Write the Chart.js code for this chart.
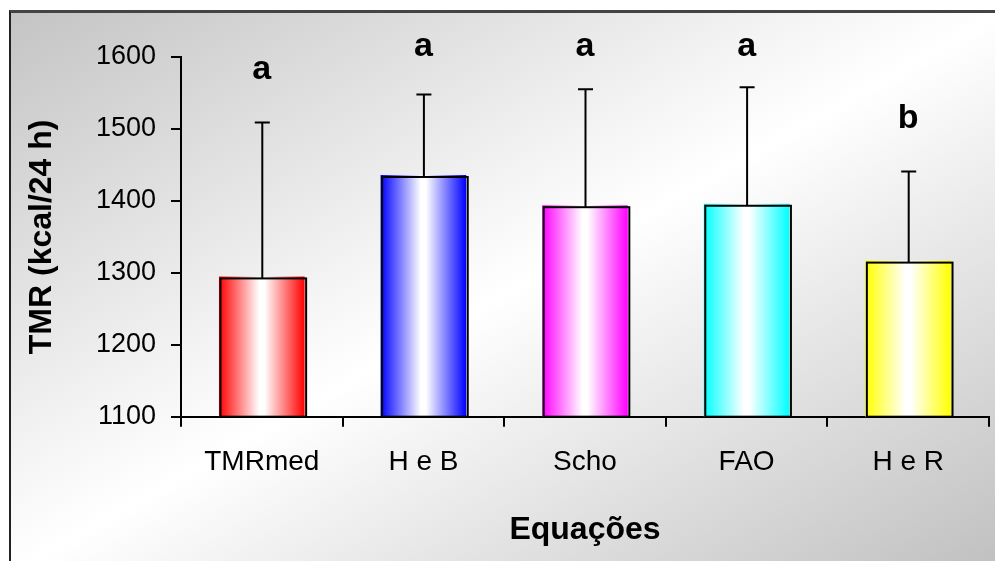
<!DOCTYPE html>
<html lang="pt">
<head>
  <meta charset="UTF-8">
  <title>TMR por equação</title>
  <script src="https://cdn.jsdelivr.net/npm/chart.js"></script>
  <style>
    html, body { margin: 0; padding: 0; width: 995px; height: 561px; overflow: hidden; background: #fff; }
    #frame {
      position: absolute; left: 9px; top: 10px; width: 992px; height: 560px;
      border-left: 2px solid #222; border-top: 3px solid #444;
      background: linear-gradient(to bottom right, #c4c4c4 0%, #f4f4f4 40%, #ffffff 50%, #f2f2f2 60%, #bfbfbf 100%);
    }
    #tmrChart { position: absolute; left: 0; top: 0; }
  </style>
</head>
<body>
  <div id="frame"></div>
  <canvas id="tmrChart" width="995" height="561"></canvas>

  <script>
    // values
    const categories = ['TMRmed', 'H e B', 'Scho', 'FAO', 'H e R'];
    const means = [1295, 1436, 1394, 1396, 1317];
    const errTop = [1509, 1548, 1555, 1558, 1441];
    const letters = ['a', 'a', 'a', 'a', 'b'];
    const letterLevels = [1569, 1602, 1602, 1602, 1502];
    const barColors = ['#ff0000', '#0000ff', '#ff00ff', '#00ffff', '#ffff00'];
    const yTicks = [1100, 1200, 1300, 1400, 1500, 1600];

    const BAR_PCT = 0.53;
    const FONT = "'Liberation Sans', Arial, sans-serif";

    // horizontal colour -> white -> colour fill, like the old Excel bars
    function barGradient(c) {
      const chart = c.chart;
      const xs = chart.scales.x;
      const col = barColors[c.dataIndex] || barColors[0];
      if (!xs || c.dataIndex === undefined) return col;
      const cx = xs.getPixelForValue(c.dataIndex);
      const w = xs.width / categories.length * BAR_PCT;
      if (!isFinite(cx) || !isFinite(w) || w <= 0) return col;
      const g = chart.ctx.createLinearGradient(cx - w / 2, 0, cx + w / 2, 0);
      g.addColorStop(0, col);
      g.addColorStop(0.47, '#ffffff');
      g.addColorStop(0.53, '#ffffff');
      g.addColorStop(1, col);
      return g;
    }

    // outline (slightly offset), error bars and letters
    const extras = {
      id: 'extras',
      afterDatasetsDraw(chart) {
        const ctx = chart.ctx;
        const ys = chart.scales.y;
        const bottom = ys.getPixelForValue(ys.min);
        const meta = chart.getDatasetMeta(0);
        ctx.save();
        ctx.strokeStyle = '#000';
        ctx.lineWidth = 2;
        meta.data.forEach((bar, i) => {
          const p = bar.getProps(['x', 'y', 'width'], true);
          const top = p.y + 2;
          ctx.strokeRect(p.x - p.width / 2 + 1.5, top, p.width, bottom - top);

          const cx = p.x + 0.5;
          const yErr = ys.getPixelForValue(errTop[i]);
          ctx.beginPath();
          ctx.moveTo(cx, top);
          ctx.lineTo(cx, yErr);
          ctx.moveTo(cx - 7.5, yErr);
          ctx.lineTo(cx + 7.5, yErr);
          ctx.stroke();

          ctx.fillStyle = '#000';
          ctx.font = 'bold 34px ' + FONT;
          ctx.textAlign = 'center';
          ctx.textBaseline = 'alphabetic';
          ctx.fillText(letters[i], p.x, ys.getPixelForValue(letterLevels[i]));
        });
        ctx.restore();
      }
    };

    new Chart(document.getElementById('tmrChart'), {
      type: 'bar',
      data: {
        labels: categories,
        datasets: [{
          data: means,
          backgroundColor: barGradient,
          borderWidth: 0,
          barPercentage: BAR_PCT,
          categoryPercentage: 1
        }]
      },
      options: {
        responsive: false,
        animation: false,
        devicePixelRatio: 1,
        layout: { padding: { left: 0, right: 6, top: 57, bottom: 0 } },
        plugins: { legend: { display: false }, tooltip: { enabled: false } },
        scales: {
          x: {
            grid: { display: true, drawOnChartArea: false, color: '#000', lineWidth: 2, tickLength: 10 },
            border: { color: '#000', width: 2 },
            ticks: { color: '#000', font: { family: FONT, size: 28 }, padding: 19 },
            title: {
              display: true, text: 'Equações', color: '#000',
              font: { family: FONT, size: 32, weight: 'bold' }, padding: { top: 0, bottom: 12 }
            },
            afterFit(scale) { scale.height = 144.3; }
          },
          y: {
            min: 1100, max: 1600,
            afterBuildTicks(scale) { scale.ticks = yTicks.map(v => ({ value: v })); },
            grid: { display: true, drawOnChartArea: false, color: '#000', lineWidth: 2, tickLength: 10 },
            border: { color: '#000', width: 2 },
            ticks: { color: '#000', font: { family: FONT, size: 27 }, padding: 15, callback: v => String(v) },
            title: {
              display: true, text: 'TMR (kcal/24 h)', color: '#000',
              font: { family: FONT, size: 32, weight: 'bold' }, padding: { top: 23, bottom: 0 }
            },
            afterFit(scale) { scale.width = 181; }
          }
        }
      },
      plugins: [extras]
    });
  </script>
</body>
</html>
